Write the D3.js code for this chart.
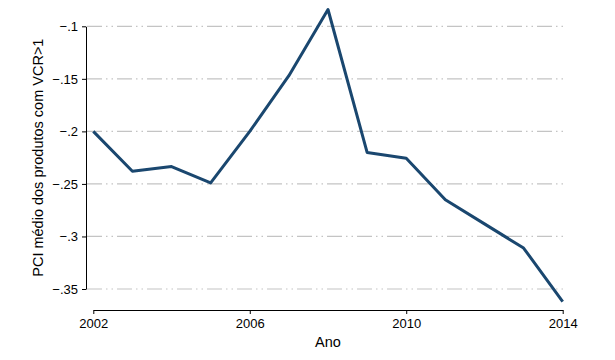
<!DOCTYPE html>
<html>
<head>
<meta charset="utf-8">
<script src="https://cdn.jsdelivr.net/npm/d3@7"></script>
<style>
  body { margin: 0; background: #fff; }
  svg { display: block; font-family: "Liberation Sans", Arial, sans-serif; }
  .grid line { stroke: #c4c4c4; stroke-width: 1.2; stroke-dasharray: 15,4,1.5,4,1.5,4; }
  .axis path, .axis line { stroke: #000; stroke-width: 1; }
  .axis text { font-size: 13px; fill: #000; }
</style>
</head>
<body>
<svg id="chart" width="615" height="360"></svg>
<script>
const years = [2002, 2003, 2004, 2005, 2006, 2007, 2008, 2009, 2010, 2011, 2012, 2013, 2014];
const pciValues = [-0.200, -0.238, -0.2335, -0.249, -0.200, -0.147, -0.084, -0.220, -0.2255, -0.265, -0.288, -0.311, -0.362];
const yTicks = [-0.35, -0.3, -0.25, -0.2, -0.15, -0.1];
const xTicks = [2002, 2006, 2010, 2014];
const xTitle = "Ano";
const yTitle = "PCI médio dos produtos com VCR>1";

const svg = d3.select("#chart");

const x = d3.scaleLinear().domain([2002, 2014]).range([93.3, 562.7]);
const y = d3.scaleLinear().domain([-0.35, -0.1]).range([289, 26.3]);

const yLabel = d => d3.format(".2~f")(d).replace("0.", ".");

// gridlines
svg.append("g")
  .attr("class", "grid")
  .selectAll("line")
  .data(yTicks)
  .join("line")
  .attr("x1", 87)
  .attr("x2", 563)
  .attr("y1", d => y(d))
  .attr("y2", d => y(d));

// y axis
const yAxis = svg.append("g")
  .attr("class", "axis")
  .attr("transform", "translate(86,0)")
  .call(d3.axisLeft(y).tickValues(yTicks).tickFormat(yLabel).tickSize(4).tickSizeOuter(0).tickPadding(4));

// x axis
const xAxis = svg.append("g")
  .attr("class", "axis")
  .attr("transform", "translate(0,310)")
  .call(d3.axisBottom(x).tickValues(xTicks).tickFormat(d3.format("d")).tickSize(4).tickSizeOuter(0).tickPadding(5));

// line
const line = d3.line()
  .x((d, i) => x(years[i]))
  .y(d => y(d));

svg.append("path")
  .datum(pciValues)
  .attr("fill", "none")
  .attr("stroke", "#1a476f")
  .attr("stroke-width", 3)
  .attr("stroke-linejoin", "round")
  .attr("d", line);

// titles
svg.append("text")
  .attr("x", (x.range()[0] + x.range()[1]) / 2)
  .attr("y", 347)
  .attr("text-anchor", "middle")
  .style("font-size", "14.5px")
  .text(xTitle);

svg.append("text")
  .attr("transform", `translate(43,${(y.range()[0] + y.range()[1]) / 2}) rotate(-90)`)
  .attr("text-anchor", "middle")
  .style("font-size", "14.5px")
  .text(yTitle);
</script>
</body>
</html>
